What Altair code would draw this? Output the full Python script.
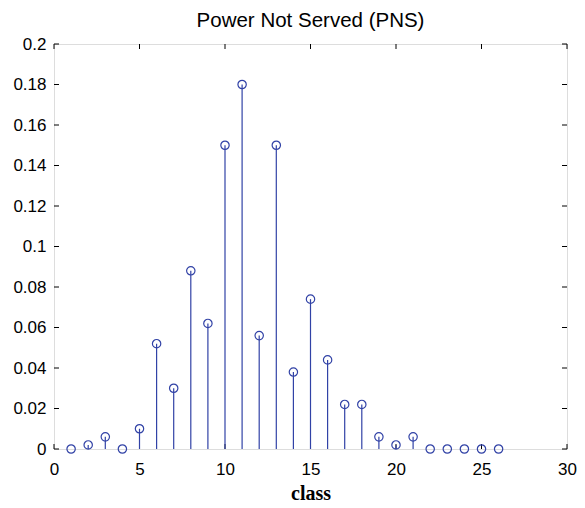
import altair as alt
import pandas as pd

classes = list(range(1, 27))
pns = [0.0, 0.002, 0.006, 0.0, 0.010, 0.052, 0.030, 0.088, 0.062, 0.150,
       0.180, 0.056, 0.150, 0.038, 0.074, 0.044, 0.022, 0.022, 0.006, 0.002,
       0.006, 0.0, 0.0, 0.0, 0.0, 0.0]
x_ticks = [0, 5, 10, 15, 20, 25, 30]
y_ticks = [0, 0.02, 0.04, 0.06, 0.08, 0.1, 0.12, 0.14, 0.16, 0.18, 0.2]

W, H = 513, 405
BLUE = "#3142a6"
FONT = "Liberation Sans"

df = pd.DataFrame({"cls": classes, "pns": pns})
dx = pd.DataFrame({"xt": x_ticks})
dy = pd.DataFrame({"yt": y_ticks})

xscale = alt.Scale(domain=[0, 30], nice=False, zero=False)
yscale = alt.Scale(domain=[0, 0.2], nice=False)

xaxis = alt.Axis(values=x_ticks, ticks=False, domain=False, grid=False,
                 labelFont=FONT, labelFontSize=17, labelColor="black",
                 labelPadding=12, title="class", titleFont="Liberation Serif",
                 titleFontSize=20, titleFontWeight="bold", titleColor="black",
                 titlePadding=6, labelFlush=False)
yaxis = alt.Axis(values=y_ticks, ticks=False, domain=False, grid=False,
                 labelFont=FONT, labelFontSize=17, labelColor="black",
                 labelPadding=8, format="~g", title=None, labelFlush=False)

stems = alt.Chart(df).mark_rule(color=BLUE, strokeWidth=1.2).encode(
    x=alt.X("cls:Q", scale=xscale, axis=xaxis),
    y=alt.Y("pns:Q", scale=yscale, axis=yaxis),
    y2=alt.datum(0),
)
heads = alt.Chart(df).mark_point(shape="circle", filled=False, color=BLUE,
                                 size=70, strokeWidth=1.2, opacity=1).encode(
    x=alt.X("cls:Q", scale=xscale),
    y=alt.Y("pns:Q", scale=yscale),
)

tick_len = 5
bx = alt.Chart(dx).mark_rule(color="black", strokeWidth=1).encode(
    x=alt.X("xt:Q", scale=xscale), y=alt.value(H), y2=alt.value(H - tick_len))
tx = alt.Chart(dx).mark_rule(color="black", strokeWidth=1).encode(
    x=alt.X("xt:Q", scale=xscale), y=alt.value(0), y2=alt.value(tick_len))
ly = alt.Chart(dy).mark_rule(color="black", strokeWidth=1).encode(
    y=alt.Y("yt:Q", scale=yscale), x=alt.value(0), x2=alt.value(tick_len))
ry = alt.Chart(dy).mark_rule(color="black", strokeWidth=1).encode(
    y=alt.Y("yt:Q", scale=yscale), x=alt.value(W), x2=alt.value(W - tick_len))

chart = alt.layer(bx, tx, ly, ry, stems, heads).properties(
    width=W, height=H,
    title=alt.TitleParams("Power Not Served (PNS)", font=FONT, fontSize=20.5,
                          fontWeight="normal", color="black", anchor="middle",
                          frame="group", offset=4),
    autosize=alt.AutoSizeParams(type="none"),
    padding={"left": 46, "top": 36, "right": 10, "bottom": 55},
).configure_view(stroke="black", strokeWidth=1.2).configure(background="white")

chart.save("out.html", embed_options={"renderer": "svg", "actions": False})
